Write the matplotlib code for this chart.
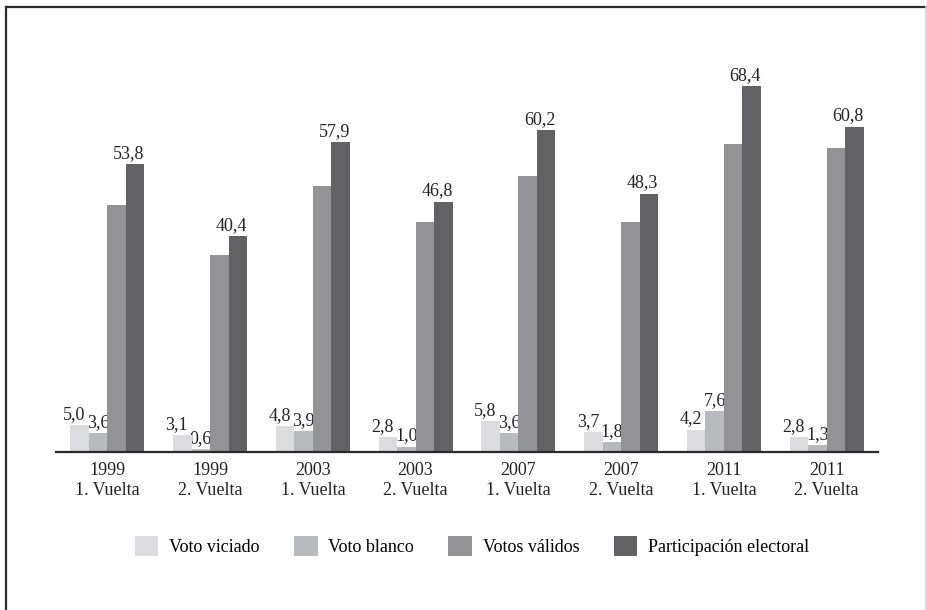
import matplotlib
matplotlib.use("Agg")
import matplotlib.pyplot as plt
from matplotlib.patches import Patch
from matplotlib.lines import Line2D
import numpy as np

# ── Data ───────────────────────────────────────────────────────────────────────
YEARS   = ["1999", "1999", "2003", "2003", "2007", "2007", "2011", "2011"]
ROUNDS  = ["1. Vuelta", "2. Vuelta"] * 4
VICIADO = [5.0, 3.1, 4.8, 2.8, 5.8, 3.7, 4.2, 2.8]
BLANCO  = [3.6, 0.6, 3.9, 1.0, 3.6, 1.8, 7.6, 1.3]
VALIDOS = [46.2, 36.8, 49.8, 43.0, 51.6, 43.0, 57.6, 56.8]
PARTIC  = [53.8, 40.4, 57.9, 46.8, 60.2, 48.3, 68.4, 60.8]

SERIES_NAMES = ["Voto viciado", "Voto blanco", "Votos válidos",
                "Participación electoral"]
COLOURS = ["#dcdcde", "#b9babd", "#939396", "#626264"]

plt.rcParams["font.family"] = ["Liberation Serif", "DejaVu Serif"]

fig = plt.figure(figsize=(9.28, 6.10), dpi=100)
W, H = 928, 610

# outer frame (top/left dark, right light)
fig.add_artist(Line2D([6 / W, 6 / W], [0, 1 - 7 / H], color="#2a2a2a",
                      lw=1.6, transform=fig.transFigure))
fig.add_artist(Line2D([6 / W, 926 / W], [1 - 7 / H, 1 - 7 / H],
                      color="#2a2a2a", lw=1.6, transform=fig.transFigure))
fig.add_artist(Line2D([926 / W, 926 / W], [0, 1 - 7 / H], color="#d0d0d0",
                      lw=1.2, transform=fig.transFigure))

ax = fig.add_axes([56 / W, (H - 452) / H, (878 - 56) / W, (452 - 40) / H])

x = np.arange(len(YEARS))
bw = 0.18
offsets = [-1.5 * bw, -0.5 * bw, 0.5 * bw, 1.5 * bw]
all_series = [VICIADO, BLANCO, VALIDOS, PARTIC]

for vals, off, col in zip(all_series, offsets, COLOURS):
    ax.bar(x + off, vals, width=bw, color=col, edgecolor="none", zorder=2)

# value labels (válidos is left unlabelled)
label_specs = [(VICIADO, offsets[0], -0.3), (BLANCO, offsets[1], 0.0),
               (PARTIC, offsets[3], -0.35)]
for vals, off, shift in label_specs:
    for xi, v in zip(x, vals):
        ax.text(xi + off + shift * bw, v + 0.4, f"{v:.1f}".replace(".", ","),
                ha="center", va="bottom", fontsize=13, color="#222222",
                zorder=1)

ax.set_xlim(-0.5, len(YEARS) - 0.5)
ax.set_ylim(0, 412 / 5.35)
ax.set_xticks(x)
ax.set_xticklabels([f"{y}\n{r}" for y, r in zip(YEARS, ROUNDS)],
                   fontsize=13, color="#222222", linespacing=1.25)
ax.tick_params(axis="x", length=0, pad=7)
ax.set_yticks([])
for side in ["top", "right", "left"]:
    ax.spines[side].set_visible(False)
ax.spines["bottom"].set_color("#2a2a2a")
ax.spines["bottom"].set_linewidth(1.6)
ax.set_facecolor("none")

handles = [Patch(facecolor=c, edgecolor="none") for c in COLOURS]
fig.legend(handles, SERIES_NAMES, loc="center", ncol=4,
           bbox_to_anchor=(472 / W, (H - 546) / H), frameon=False,
           fontsize=13, handlelength=1.3, handleheight=1.3,
           handletextpad=0.6, columnspacing=1.9)

plt.savefig("out.png", dpi=100)
plt.close()
